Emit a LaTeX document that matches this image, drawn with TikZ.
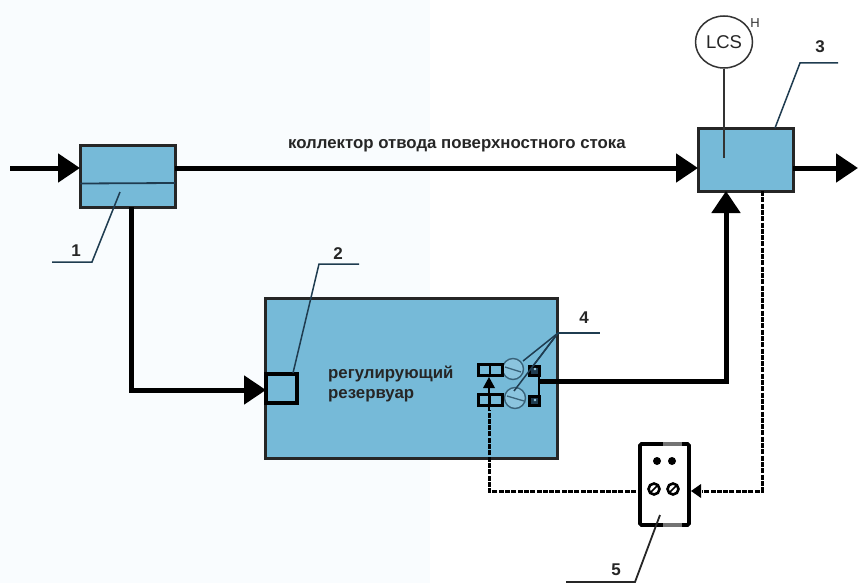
\documentclass[tikz,border=0pt]{standalone}
\usepackage{fontspec}
\setmainfont{Liberation Sans}
\usetikzlibrary{arrows.meta,calc,shapes.geometric}
\definecolor{tank}{HTML}{76BAD8}
\definecolor{leader}{HTML}{1F3C50}
\definecolor{tint}{HTML}{F9FCFE}
\tikzset{
  x=1pt,y=-1pt,
  tankbox/.style={draw=black!85,line width=3pt,fill=tank,inner sep=0pt,outer sep=0pt,anchor=north west},
  flow/.style={draw=black,line width=5pt,-{Triangle[length=22pt,width=28pt]}},
  signal/.style={draw=black,line width=3pt,dash pattern=on 5pt off 1.3pt},
  leaderline/.style={draw=leader,line width=1.5pt},
  lab/.style={font=\fontsize{17}{19}\selectfont\bfseries,inner sep=0pt,text=black!85},
  txt/.style={font=\fontsize{16.8}{19}\selectfont\bfseries,inner sep=0pt,text=black!85},
  valvebox/.style={draw=black,line width=3pt,fill=tank,inner sep=0pt,outer sep=0pt,anchor=north west},
  pumpc/.style={draw=leader!70!tank,line width=1.4pt,circle,fill=tank!85!white,inner sep=0pt,outer sep=0pt,minimum size=21pt},
}
\begin{document}
\begin{tikzpicture}
\useasboundingbox (0,0) rectangle (858,583);
\fill[white] (0,0) rectangle (858,583);
\fill[tint] (0,0) rectangle (430,583);

% tanks
\node[tankbox,minimum width=95pt,minimum height=62pt] (t1) at (80,145) {};
\node[tankbox,minimum width=95pt,minimum height=63pt] (t3) at (698,128) {};
\node[tankbox,minimum width=292pt,minimum height=160pt] (res) at (265,298) {};
\draw[draw=leader,line width=1.8pt] (t1.west |- 0,183.5) -- (t1.east |- 0,183);

% chamber 2
\node[draw=black,line width=4pt,inner sep=0pt,outer sep=0pt,minimum width=31pt,minimum height=29pt,anchor=north west] (ch) at (266,374) {};

% pump group
\node[pumpc] (p1) at (513,369) {};
\node[pumpc] (p2) at (515,398) {};
\node[valvebox,minimum width=24pt,minimum height=11pt] (v1) at (478,364) {};
\node[valvebox,minimum width=24pt,minimum height=11pt] (v2) at (478,394) {};
\node[valvebox,minimum width=10pt,minimum height=9pt,fill=leader] (s1) at (529,366) {};
\node[valvebox,minimum width=10pt,minimum height=9pt,fill=leader] (s2) at (529,396) {};
\fill[tank!70!white] (535,369) circle (1.3pt) (535,400) circle (1.3pt);
\draw[black,line width=2.6pt] (490,364) -- (490,375) (490,394) -- (490,405);
\draw[black,line width=2.6pt] (s1.south east) -- (s2.north east);
\draw[leader!70!tank,line width=1.3pt] (505,367) -- (521,372) (507,396) -- (524,401);

% process flows
\coordinate (in) at (10,168);
\coordinate (out) at (858,168);
\coordinate (outA) at (539,381);
\coordinate (dn) at (131,207);
\draw[flow] (in) -- (t1.west |- in);
\draw[flow] (t1.east |- in) -- (t3.west |- in);
\draw[flow] (t3.east |- in) -- (out);
\draw[flow] (dn) -- (131,390) -- (ch.west |- 0,390);
\draw[flow] (outA) -- (726,381) -- (726,191);

% controller
\node[draw=none,inner sep=0pt,minimum width=52pt,minimum height=81pt,anchor=north west] (ctl) at (638,444) {};
\draw[black,line width=3.6pt,line cap=round,rounded corners=1.5pt] (663,444) -- (640,444) -- (640,525) -- (663,525);
\draw[black,line width=3.6pt,line cap=round,rounded corners=1.5pt] (682,444) -- (689,444) -- (689,525) -- (682,525);
\draw[black!55,line width=3.8pt] (663,444) -- (682,444) (663,525) -- (682,525);
\fill[black] (657,461) circle (4pt) (672,461) circle (4pt);
\foreach \n/\cx in {a/654,b/673}{
  \node[draw=black,line width=2.6pt,circle,inner sep=0pt,minimum size=11pt] (d\n) at (\cx,489) {};
  \draw[black,line width=1.6pt] (\cx-3,492) -- (\cx+3,486);
}

% signals
\coordinate (sigR) at (762,191);
\coordinate (sigL) at (636,491);
\draw[signal] (sigR) -- (762,491) -- (702,491);
\fill[black] (691,491) -- (701,484) -- (701,498) -- cycle;
\draw[signal] (sigL) -- (489,491) -- (489,410);
\draw[black,line width=2.4pt] (489,410) -- (489,385);
\fill[black] (489,377) -- (483,388) -- (495,388) -- cycle;

% LCS
\node[draw=black!80,line width=1.5pt,ellipse,inner sep=0pt,minimum width=57pt,minimum height=52pt,font=\fontsize{18.5}{20}\selectfont,text=black!85] (lcs) at (724,42) {LCS};
\node[font=\fontsize{13}{14}\selectfont,inner sep=0pt,text=black!80] (h) at (755,23) {H};
\coordinate (lcsEnd) at (724,158);
\draw[black!80,line width=1.5pt] (lcs.south) -- (lcsEnd);

% leaders
\coordinate (l1a) at (120,192); \coordinate (l1b) at (92,262); \coordinate (l1c) at (52,262);
\draw[leaderline] (l1a) -- (l1b) -- (l1c);
\node[lab] (n1) at (76,251) {1};
\coordinate (l2a) at (293,373); \coordinate (l2b) at (319,264); \coordinate (l2c) at (359,264);
\draw[leaderline] (l2a) -- (l2b) -- (l2c);
\node[lab] (n2) at (338,254) {2};
\coordinate (l3a) at (775,128); \coordinate (l3b) at (800,63); \coordinate (l3c) at (838,63);
\draw[leaderline] (l3a) -- (l3b) -- (l3c);
\node[lab] (n3) at (820,47) {3};
\coordinate (l4a) at (558,333); \coordinate (l4b) at (600,333);
\draw[leaderline] (l4a) -- (l4b);
\draw[leaderline] (l4a) -- (523,361);
\draw[leaderline] (l4a) -- (533,366);
\draw[leaderline] (l4a) -- (514,391);
\node[lab] (n4) at (584,318) {4};
\coordinate (l5a) at (660,515); \coordinate (l5b) at (635,582); \coordinate (l5c) at (566,582);
\draw[leaderline,draw=black!85,line width=1.8pt] (l5a) -- (l5b) -- (l5c);
\node[lab] (n5) at (616,570) {5};

% texts
\node[txt,anchor=west] (tc) at (288,146) {коллектор отвода поверхностного стока};
\node[txt,anchor=west] (tr1) at (328,374) {регулирующий};
\node[txt,anchor=west] (tr2) at (328,396) {резервуар};
\end{tikzpicture}
\end{document}
